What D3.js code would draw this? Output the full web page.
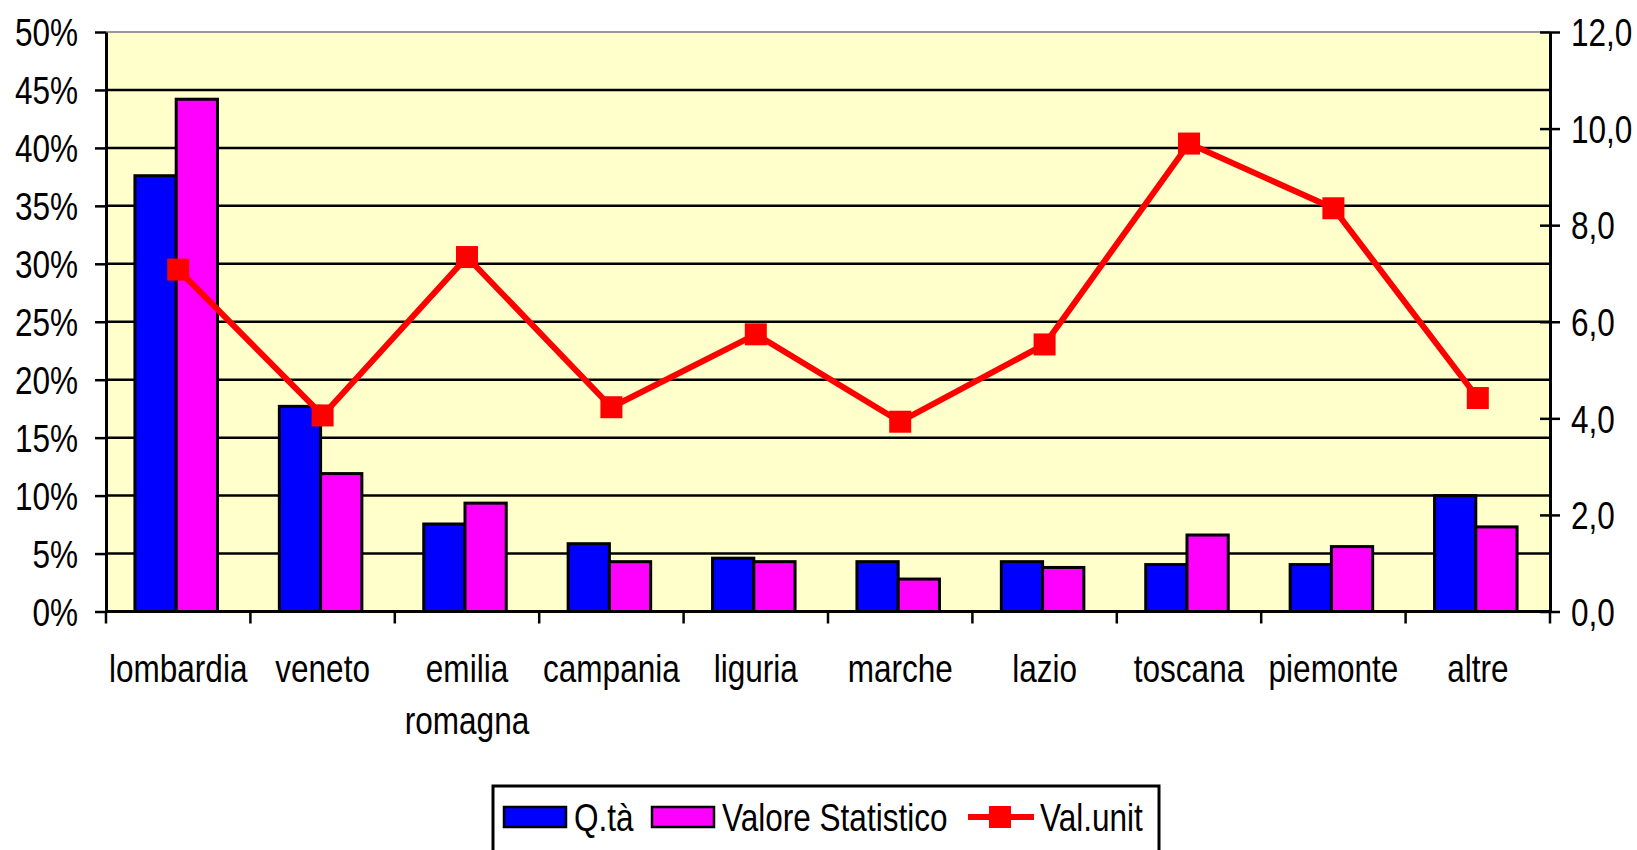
<!DOCTYPE html>
<html>
<head>
<meta charset="utf-8">
<script src="https://cdnjs.cloudflare.com/ajax/libs/d3/7.8.5/d3.min.js"></script>
<style>
  body { margin: 0; background: #fff; }
  svg text { font-family: "Liberation Sans", Arial, sans-serif; fill: #000; }
</style>
</head>
<body>
<svg id="chart" width="1637" height="850"></svg>
<script>
// data
var categories = ["lombardia", "veneto", "emilia romagna", "campania", "liguria", "marche", "lazio", "toscana", "piemonte", "altre"];
var qta = [0.376, 0.177, 0.0755, 0.0585, 0.046, 0.043, 0.043, 0.0405, 0.0405, 0.100];
var valoreStatistico = [0.442, 0.119, 0.0935, 0.043, 0.043, 0.028, 0.038, 0.066, 0.056, 0.073];
var valUnit = [7.08, 4.06, 7.34, 4.23, 5.74, 3.93, 5.53, 9.69, 8.35, 4.42];
var leftTicks = [0, 0.05, 0.10, 0.15, 0.20, 0.25, 0.30, 0.35, 0.40, 0.45, 0.50];
var rightTicks = [0, 2, 4, 6, 8, 10, 12];
var seriesNames = ["Q.tà", "Valore Statistico", "Val.unit"];

var svg = d3.select("#chart");
var plotLeft = 106, plotRight = 1550, plotTop = 32, plotBottom = 611.5;
var fontSize = 38, squeezeX = 0.83;

// the reference font is tall and narrow, so squeeze text horizontally
function squeeze(sel) {
    sel.each(function() {
        var t = d3.select(this);
        var tx = +t.attr("x") || 0;
        var ty = +t.attr("y") || 0;
        t.attr("x", 0).attr("y", 0)
            .attr("font-size", fontSize)
            .attr("transform", `translate(${tx},${ty}) scale(${squeezeX},1)`);
    });
}

var x = d3.scaleBand().domain(categories).range([plotLeft, plotRight]).paddingInner(0).paddingOuter(0);
var xs = d3.scaleBand().domain(["q", "v"]).range([-2, x.bandwidth() - 2]).paddingInner(0).paddingOuter(0.75);
var yL = d3.scaleLinear().domain([0, 0.5]).range([plotBottom, plotTop]);
var yR = d3.scaleLinear().domain([0, 12]).range([plotBottom, plotTop]);

// plot background
svg.append("rect")
    .attr("x", plotLeft).attr("y", plotTop)
    .attr("width", plotRight - plotLeft).attr("height", plotBottom - plotTop)
    .attr("fill", "#ffffcc");

// gridlines
svg.append("g")
    .selectAll("line")
    .data(leftTicks.slice(1, -1))
    .join("line")
    .attr("x1", plotLeft).attr("x2", plotRight)
    .attr("y1", d => yL(d)).attr("y2", d => yL(d))
    .attr("stroke", "#000").attr("stroke-width", 2.5);

svg.append("line")
    .attr("x1", plotLeft).attr("x2", plotRight)
    .attr("y1", plotTop).attr("y2", plotTop)
    .attr("stroke", "#999").attr("stroke-width", 2);

// bars
var groups = svg.append("g")
    .selectAll("g")
    .data(categories)
    .join("g")
    .attr("transform", d => `translate(${x(d)},0)`);

groups.append("rect")
    .attr("x", xs("q"))
    .attr("width", xs.bandwidth())
    .attr("y", (d, i) => yL(qta[i]))
    .attr("height", (d, i) => plotBottom - yL(qta[i]))
    .attr("fill", "#0000ff").attr("stroke", "#000").attr("stroke-width", 3);

groups.append("rect")
    .attr("x", xs("v"))
    .attr("width", xs.bandwidth())
    .attr("y", (d, i) => yL(valoreStatistico[i]))
    .attr("height", (d, i) => plotBottom - yL(valoreStatistico[i]))
    .attr("fill", "#ff00ff").attr("stroke", "#000").attr("stroke-width", 3);

// axes
var axisL = svg.append("g")
    .attr("transform", `translate(${plotLeft},0)`)
    .call(d3.axisLeft(yL).tickValues(leftTicks).tickFormat(d3.format(".0%")).tickSizeInner(11).tickSizeOuter(0).tickPadding(17));

var axisR = svg.append("g")
    .attr("transform", `translate(${plotRight},0)`)
    .call(d3.axisRight(yR).tickValues(rightTicks).tickFormat(d => d.toFixed(1).replace(".", ",")).tickSizeInner(10).tickSizeOuter(0).tickPadding(11));
axisR.selectAll(".tick line").attr("x1", -10);

[axisL, axisR].forEach(function(a) {
    a.attr("font-family", null).attr("font-size", null);
    a.select(".domain").attr("stroke", "#000").attr("stroke-width", 3);
    a.selectAll(".tick line").attr("stroke", "#000").attr("stroke-width", 2.5);
    a.selectAll(".tick text").attr("fill", "#000").attr("dy", "0.36em").call(squeeze);
});

// category ticks and baseline
svg.append("g")
    .selectAll("line")
    .data(d3.range(categories.length + 1))
    .join("line")
    .attr("x1", i => plotLeft + i * x.step()).attr("x2", i => plotLeft + i * x.step())
    .attr("y1", plotBottom).attr("y2", plotBottom + 12)
    .attr("stroke", "#000").attr("stroke-width", 2.5);

svg.append("line")
    .attr("x1", plotLeft - 1).attr("x2", plotRight + 1)
    .attr("y1", plotBottom).attr("y2", plotBottom)
    .attr("stroke", "#000").attr("stroke-width", 3);

// category labels, split into lines when they have more than one word
var catLabels = svg.append("g")
    .attr("text-anchor", "middle")
    .selectAll("g")
    .data(categories)
    .join("g")
    .selectAll("text")
    .data((d, i) => d.split(" ").map((w, j) => ({ word: w, cat: d, line: j })))
    .join("text")
    .attr("x", d => x(d.cat) + x.bandwidth() / 2)
    .attr("y", d => 682 + d.line * 52)
    .text(d => d.word)
    .call(squeeze);

// line series
var line = d3.line()
    .x((d, i) => x(categories[i]) + x.bandwidth() / 2)
    .y(d => yR(d));

svg.append("path")
    .datum(valUnit)
    .attr("d", line)
    .attr("fill", "none")
    .attr("stroke", "#ff0000")
    .attr("stroke-width", 6)
    .attr("stroke-linejoin", "round");

var markerSize = 22;
svg.append("g")
    .selectAll("rect")
    .data(valUnit)
    .join("rect")
    .attr("x", (d, i) => x(categories[i]) + x.bandwidth() / 2 - markerSize / 2)
    .attr("y", d => yR(d) - markerSize / 2)
    .attr("width", markerSize).attr("height", markerSize)
    .attr("fill", "#ff0000");

// legend
var legend = svg.append("g");
legend.append("rect")
    .attr("x", 493).attr("y", 786)
    .attr("width", 666).attr("height", 80)
    .attr("fill", "#fff").attr("stroke", "#000").attr("stroke-width", 3);

legend.append("rect")
    .attr("x", 504).attr("y", 807).attr("width", 62).attr("height", 20)
    .attr("fill", "#0000ff").attr("stroke", "#000").attr("stroke-width", 2.5);
legend.append("text").attr("x", 574).attr("y", 831).text(seriesNames[0]).call(squeeze);

legend.append("rect")
    .attr("x", 652).attr("y", 807).attr("width", 62).attr("height", 20)
    .attr("fill", "#ff00ff").attr("stroke", "#000").attr("stroke-width", 2.5);
legend.append("text").attr("x", 722).attr("y", 831).text(seriesNames[1]).call(squeeze);

legend.append("line")
    .attr("x1", 968).attr("x2", 1034).attr("y1", 817).attr("y2", 817)
    .attr("stroke", "#ff0000").attr("stroke-width", 6);
legend.append("rect")
    .attr("x", 1000 - markerSize / 2).attr("y", 817 - markerSize / 2)
    .attr("width", markerSize).attr("height", markerSize)
    .attr("fill", "#ff0000");
legend.append("text").attr("x", 1040).attr("y", 831).text(seriesNames[2]).call(squeeze);
</script>
</body>
</html>
